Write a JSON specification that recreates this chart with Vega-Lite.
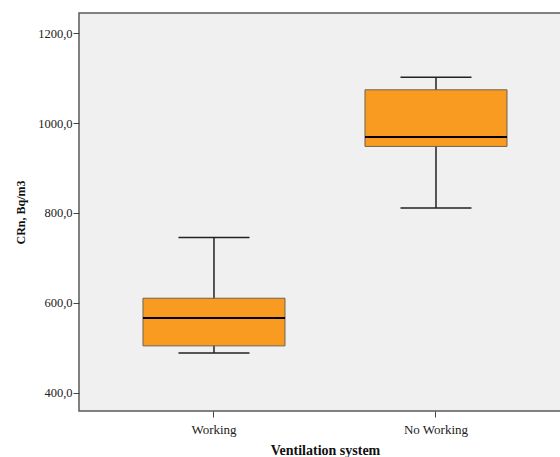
{
  "$schema": "https://vega.github.io/schema/vega-lite/v6.json",
  "autosize": {"type": "none"},
  "padding": {"left": 79, "top": 13, "right": 0, "bottom": 46},
  "width": 485,
  "height": 398,
  "background": "#ffffff",
  "config": {
    "view": {"fill": "#f0f0f0", "stroke": "#5a5a5a", "strokeWidth": 1.5},
    "font": "Liberation Serif",
    "axis": {
      "labelFont": "Liberation Serif",
      "titleFont": "Liberation Serif",
      "labelColor": "#222222",
      "titleColor": "#111111",
      "tickColor": "#444444",
      "grid": false,
      "domain": false
    }
  },
  "data": {
    "values": [
      {"system": "Working", "lower": 488, "q1": 504, "median": 566, "q3": 610, "upper": 745},
      {"system": "No Working", "lower": 811, "q1": 948, "median": 969, "q3": 1074, "upper": 1102}
    ]
  },
  "encoding": {
    "x": {
      "field": "system",
      "type": "nominal",
      "sort": ["Working", "No Working"],
      "scale": {"paddingInner": 0, "paddingOuter": 0.0923, "align": 0.585},
      "axis": {
        "title": "Ventilation system",
        "titleFontWeight": "bold",
        "titleFontSize": 14,
        "titleX": 246,
        "titlePadding": 7,
        "labelAngle": 0,
        "labelFontSize": 13,
        "labelPadding": 6,
        "tickSize": 6
      }
    }
  },
  "layer": [
    {
      "mark": {"type": "rule", "color": "#222222", "strokeWidth": 1.5},
      "encoding": {
        "y": {
          "field": "lower",
          "type": "quantitative",
          "scale": {"domain": [359, 1245], "nice": false, "zero": false},
          "axis": {
            "title": "CRn, Bq/m3",
            "titleFontWeight": "bold",
            "titleFontSize": 12,
            "titlePadding": 10,
            "labelFontSize": 12.5,
            "labelPadding": 1,
            "tickSize": 6,
            "values": [400, 600, 800, 1000, 1200],
            "labelExpr": "replace(format(datum.value, '.1f'), '.', ',')"
          }
        },
        "y2": {"field": "upper"}
      }
    },
    {
      "mark": {"type": "bar", "size": 142, "fill": "#f99b20", "stroke": "#6e6250", "strokeWidth": 1},
      "encoding": {
        "y": {"field": "q1", "type": "quantitative"},
        "y2": {"field": "q3"}
      }
    },
    {
      "mark": {"type": "tick", "size": 142, "thickness": 2, "color": "#000000", "opacity": 1},
      "encoding": {"y": {"field": "median", "type": "quantitative"}}
    },
    {
      "mark": {"type": "tick", "size": 71, "thickness": 1.5, "color": "#222222", "opacity": 1},
      "encoding": {"y": {"field": "lower", "type": "quantitative"}}
    },
    {
      "mark": {"type": "tick", "size": 71, "thickness": 1.5, "color": "#222222", "opacity": 1},
      "encoding": {"y": {"field": "upper", "type": "quantitative"}}
    }
  ]
}
